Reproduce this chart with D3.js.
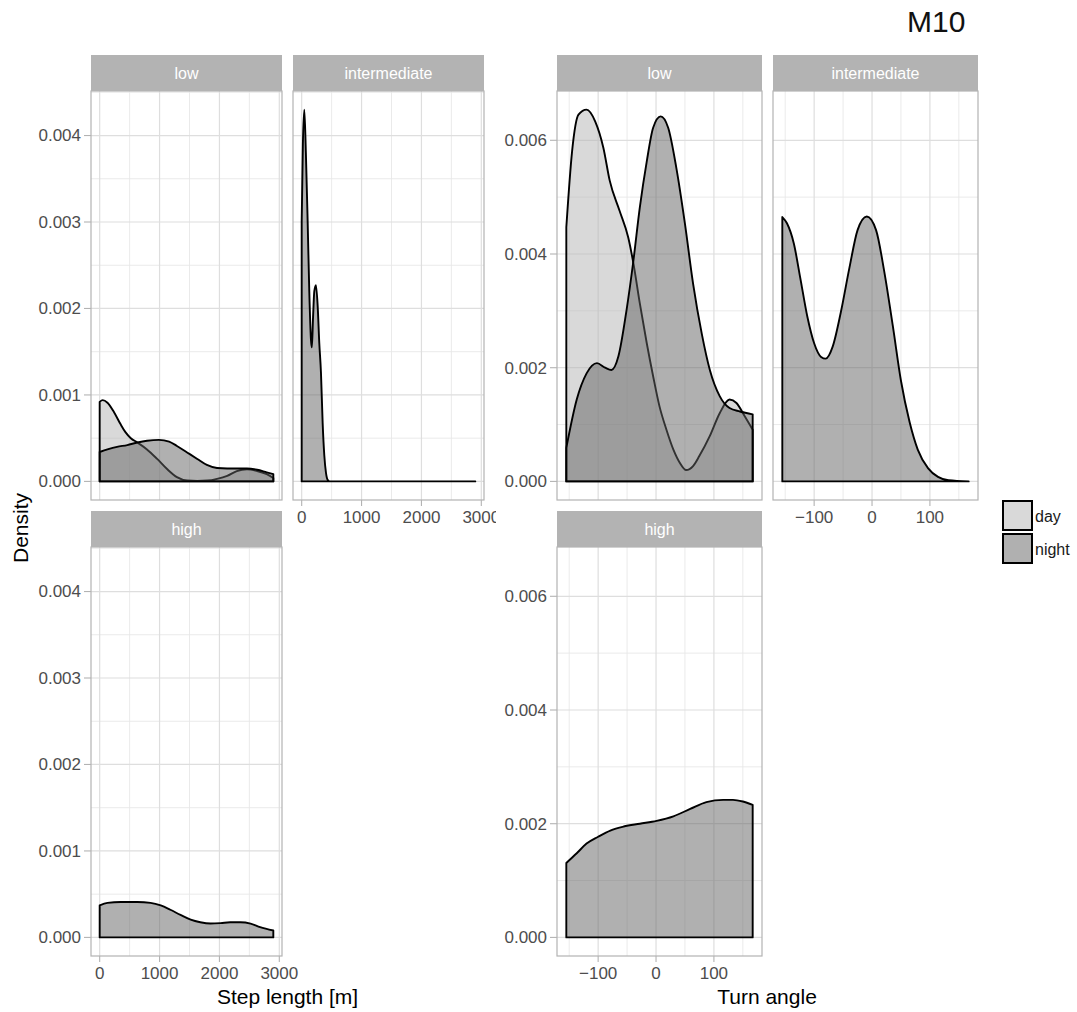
<!DOCTYPE html>
<html>
<head>
<meta charset="utf-8">
<script src="https://cdn.jsdelivr.net/npm/d3@7"></script>
<style>
  body { margin: 0; background: #fff; }
  svg { display: block; font-family: "Liberation Sans", Arial, sans-serif; }
</style>
</head>
<body>
<svg id="chart" width="1077" height="1012"></svg>
<script>
// facetas y grupos
var facetas = ["low", "intermediate", "high"];
var grupos = ["day", "night"];

// ticks
var ticksPaso = [0, 1000, 2000, 3000];
var ticksPasoMenor = [500, 1500, 2500];
var ticksDensPaso = [0, 0.001, 0.002, 0.003, 0.004];
var ticksDensPasoMenor = [0.0005, 0.0015, 0.0025, 0.0035, 0.0045];
var ticksGiro = [-100, 0, 100];
var ticksGiroMenor = [-150, -50, 50, 150];
var ticksDensGiro = [0, 0.002, 0.004, 0.006];
var ticksDensGiroMenor = [0.001, 0.003, 0.005];

// Step length: densidades [x, densidad]
var pasoLowDay = [[0,0.00092],[50,0.00094],[130,0.00091],[240,0.0008],[350,0.00066],[430,0.00057],[520,0.0005],[630,0.00045],[790,0.00037],[960,0.00026],[1130,0.00014],[1290,0.00005],[1460,0.00001],[1630,0.000005],[1800,0.00001],[1960,0.00003],[2130,0.000065],[2290,0.00012],[2460,0.00014],[2630,0.00012],[2790,0.000085],[2900,0.00004]];
var pasoLowNight = [[0,0.00034],[130,0.00037],[290,0.0004],[460,0.00042],[630,0.00045],[790,0.00047],[990,0.00048],[1160,0.00046],[1290,0.00041],[1460,0.000335],[1630,0.00026],[1790,0.00019],[1960,0.000155],[2130,0.00015],[2290,0.00015],[2460,0.00015],[2630,0.000135],[2790,0.000105],[2900,0.000085]];
var pasoIntNight = [[0,0.003],[20,0.0039],[44,0.0043],[70,0.0038],[100,0.003],[127,0.0022],[155,0.00164],[170,0.00155],[190,0.0019],[211,0.0022],[238,0.00227],[267,0.00203],[294,0.0016],[322,0.00126],[350,0.00068],[378,0.0003],[406,0.0001],[433,0.00002],[470,0],[1000,0],[2900,0]];
var pasoHighNight = [[0,0.00037],[130,0.0004],[350,0.00041],[630,0.00041],[850,0.0004],[1020,0.00037],[1180,0.00032],[1350,0.00026],[1520,0.000205],[1680,0.000175],[1850,0.00016],[2020,0.000165],[2180,0.000175],[2350,0.000175],[2520,0.00016],[2680,0.00012],[2900,0.00008]];

// Turn angle
var giroLowDay = [[-155,0.00447],[-145,0.00581],[-134,0.00645],[-120,0.00654],[-105,0.00633],[-91,0.00587],[-80,0.00529],[-63,0.00476],[-48,0.00429],[-39,0.00383],[-28,0.00313],[-16,0.00243],[-5,0.00185],[6,0.00132],[18,0.00091],[30,0.00056],[41,0.00033],[52,0.0002],[64,0.00027],[75,0.00045],[93,0.0008],[110,0.0012],[127,0.00144],[139,0.00138],[153,0.00115],[167,0.00091]];
var giroLowNight = [[-155,0.00059],[-137,0.00144],[-120,0.0019],[-102,0.00208],[-88,0.002],[-77,0.00196],[-65,0.0022],[-51,0.00301],[-39,0.00389],[-28,0.00482],[-16,0.00563],[-5,0.00622],[8,0.00642],[21,0.00622],[35,0.00552],[50,0.00453],[64,0.00348],[79,0.0026],[93,0.00196],[110,0.0015],[127,0.00129],[145,0.00123],[167,0.00118]];
var giroIntNight = [[-155,0.00465],[-147,0.00454],[-135,0.00418],[-124,0.00358],[-112,0.00291],[-100,0.00243],[-88,0.00219],[-80,0.00216],[-68,0.00237],[-54,0.00297],[-39,0.00376],[-25,0.00442],[-9,0.00466],[7,0.00442],[21,0.0037],[36,0.00273],[50,0.00177],[65,0.00104],[79,0.00056],[97,0.00023],[114,0.00008],[132,0.00002],[167,0]];
var giroHighNight = [[-155,0.00131],[-137,0.00148],[-120,0.00165],[-100,0.00177],[-79,0.00188],[-56,0.00195],[-28,0.002],[1,0.00205],[30,0.00213],[59,0.00226],[87,0.00238],[116,0.00242],[133,0.00242],[150,0.00239],[167,0.00233]];

var colores = { day: "#b3b3b3", night: "#616161" };
var coloresLeyenda = { day: "#d9d9d9", night: "#b0b0b0" };

var svg = d3.select("#chart");

// Expansion estilo ggplot (5%)
function expandir(ext) {
    var r = ext[1] - ext[0];
    return [ext[0] - r * 0.05, ext[1] + r * 0.05];
}

function maximo(listas) {
    return d3.max(listas, function (l) { return d3.max(l, function (d) { return d[1]; }); });
}
function rangoX(listas) {
    return [d3.min(listas, function (l) { return l[0][0]; }), d3.max(listas, function (l) { return l[l.length - 1][0]; })];
}

var ALTO_STRIP = 36, ALTO_PANEL = 409;

function dibujarPanel(p) {
    var g = p.padre.append("g").attr("transform", "translate(" + p.x + "," + p.y + ")");
    var w = p.ancho, h = ALTO_PANEL;
    var xs = p.escalaX.copy().range([0, w]);
    var ys = p.escalaY.copy().range([ALTO_STRIP + h, ALTO_STRIP]);

    // Strip
    g.append("rect").attr("x", 0).attr("y", 0).attr("width", w).attr("height", ALTO_STRIP).attr("fill", "#b3b3b3");
    g.append("text").attr("x", w / 2).attr("y", ALTO_STRIP / 2).attr("dy", "0.35em")
        .attr("text-anchor", "middle").attr("fill", "#fff").style("font-size", "16px").text(p.etiqueta);

    // Fondo y rejilla
    g.append("rect").attr("x", 0).attr("y", ALTO_STRIP).attr("width", w).attr("height", h).attr("fill", "#fff");
    g.selectAll(".vmin").data(p.xMenor).join("line")
        .attr("x1", function (d) { return xs(d); }).attr("x2", function (d) { return xs(d); })
        .attr("y1", ALTO_STRIP).attr("y2", ALTO_STRIP + h).attr("stroke", "#e8e8e8").attr("stroke-width", 0.9);
    g.selectAll(".hmin").data(p.yMenor).join("line")
        .attr("y1", function (d) { return ys(d); }).attr("y2", function (d) { return ys(d); })
        .attr("x1", 0).attr("x2", w).attr("stroke", "#e8e8e8").attr("stroke-width", 0.9);
    g.selectAll(".vmaj").data(p.xMayor).join("line")
        .attr("x1", function (d) { return xs(d); }).attr("x2", function (d) { return xs(d); })
        .attr("y1", ALTO_STRIP).attr("y2", ALTO_STRIP + h).attr("stroke", "#dedede").attr("stroke-width", 1.2);
    g.selectAll(".hmaj").data(p.yMayor).join("line")
        .attr("y1", function (d) { return ys(d); }).attr("y2", function (d) { return ys(d); })
        .attr("x1", 0).attr("x2", w).attr("stroke", "#dedede").attr("stroke-width", 1.2);

    // Densidades
    var area = d3.area()
        .x(function (d) { return xs(d[0]); })
        .y0(ys(0))
        .y1(function (d) { return ys(d[1]); })
        .curve(d3.curveMonotoneX);
    p.series.forEach(function (s) {
        g.append("path").attr("d", area(s.datos))
            .attr("fill", colores[s.grupo]).attr("fill-opacity", 0.5)
            .attr("stroke", "#000").attr("stroke-width", 1.9).attr("stroke-linejoin", "round");
    });

    // Borde del panel
    g.append("rect").attr("x", 0).attr("y", ALTO_STRIP).attr("width", w).attr("height", h)
        .attr("fill", "none").attr("stroke", "#b3b3b3").attr("stroke-width", 1.2);

    // Eje Y
    if (p.ejeY) {
        var ay = g.append("g");
        ay.selectAll("line").data(p.yMayor).join("line")
            .attr("x1", -7).attr("x2", 0)
            .attr("y1", function (d) { return ys(d); }).attr("y2", function (d) { return ys(d); })
            .attr("stroke", "#b3b3b3").attr("stroke-width", 1.1);
        ay.selectAll("text").data(p.yMayor).join("text")
            .attr("x", -10).attr("y", function (d) { return ys(d); }).attr("dy", "0.35em")
            .attr("text-anchor", "end").attr("fill", "#4d4d4d").style("font-size", "17px")
            .text(function (d) { return d3.format(".3f")(d); });
    }
    // Eje X
    if (p.ejeX) {
        var ax = g.append("g");
        ax.selectAll("line").data(p.xMayor).join("line")
            .attr("y1", ALTO_STRIP + h).attr("y2", ALTO_STRIP + h + 6)
            .attr("x1", function (d) { return xs(d); }).attr("x2", function (d) { return xs(d); })
            .attr("stroke", "#b3b3b3").attr("stroke-width", 1.1);
        ax.selectAll("text").data(p.xMayor).join("text")
            .attr("x", function (d) { return xs(d); }).attr("y", ALTO_STRIP + h + 23)
            .attr("text-anchor", "middle").attr("fill", "#4d4d4d").style("font-size", "17px")
            .text(function (d) { return d < 0 ? "\u2212" + Math.abs(d) : d; });
    }
}

// ---- Grafico izquierdo: Step length ----
var todasPaso = [pasoLowDay, pasoLowNight, pasoIntNight, pasoHighNight];
var escXPaso = d3.scaleLinear().domain(expandir(rangoX(todasPaso)));
var escYPaso = d3.scaleLinear().domain(expandir([0, maximo(todasPaso)]));

svg.append("clipPath").attr("id", "clipIzq").append("rect").attr("x", 0).attr("y", 0).attr("width", 496).attr("height", 1012);
var izq = svg.append("g").attr("clip-path", "url(#clipIzq)");

var comunPaso = { padre: izq, ancho: 191, escalaX: escXPaso, escalaY: escYPaso,
    xMayor: ticksPaso, xMenor: ticksPasoMenor, yMayor: ticksDensPaso, yMenor: ticksDensPasoMenor };

dibujarPanel(Object.assign({}, comunPaso, { x: 91, y: 55, etiqueta: facetas[0], ejeY: true, ejeX: false,
    series: [{ grupo: grupos[0], datos: pasoLowDay }, { grupo: grupos[1], datos: pasoLowNight }] }));
dibujarPanel(Object.assign({}, comunPaso, { x: 293, y: 55, etiqueta: facetas[1], ejeY: false, ejeX: true,
    series: [{ grupo: grupos[1], datos: pasoIntNight }] }));
dibujarPanel(Object.assign({}, comunPaso, { x: 91, y: 511, etiqueta: facetas[2], ejeY: true, ejeX: true,
    series: [{ grupo: grupos[1], datos: pasoHighNight }] }));

// ---- Grafico derecho: Turn angle ----
var todasGiro = [giroLowDay, giroLowNight, giroIntNight, giroHighNight];
var escXGiro = d3.scaleLinear().domain(expandir(rangoX(todasGiro)));
var escYGiro = d3.scaleLinear().domain(expandir([0, maximo(todasGiro)]));

var comunGiro = { padre: svg, ancho: 205, escalaX: escXGiro, escalaY: escYGiro,
    xMayor: ticksGiro, xMenor: ticksGiroMenor, yMayor: ticksDensGiro, yMenor: ticksDensGiroMenor };

dibujarPanel(Object.assign({}, comunGiro, { x: 557, y: 55, etiqueta: facetas[0], ejeY: true, ejeX: false,
    series: [{ grupo: grupos[0], datos: giroLowDay }, { grupo: grupos[1], datos: giroLowNight }] }));
dibujarPanel(Object.assign({}, comunGiro, { x: 773, y: 55, etiqueta: facetas[1], ejeY: false, ejeX: true,
    series: [{ grupo: grupos[1], datos: giroIntNight }] }));
dibujarPanel(Object.assign({}, comunGiro, { x: 557, y: 511, etiqueta: facetas[2], ejeY: true, ejeX: true,
    series: [{ grupo: grupos[1], datos: giroHighNight }] }));

// Titulos de ejes
svg.append("text").attr("x", 287.5).attr("y", 1004).attr("text-anchor", "middle")
    .style("font-size", "21px").attr("fill", "#000").text("Step length [m]");
svg.append("text").attr("x", 767).attr("y", 1004).attr("text-anchor", "middle")
    .style("font-size", "21px").attr("fill", "#000").text("Turn angle");
svg.append("text").attr("transform", "translate(28,528) rotate(-90)").attr("text-anchor", "middle")
    .style("font-size", "21px").attr("fill", "#000").text("Density");

// Leyenda
var leyenda = svg.selectAll(".leyenda").data(grupos).join("g")
    .attr("class", "leyenda")
    .attr("transform", function (d, i) { return "translate(1003," + (501 + i * 33) + ")"; });
leyenda.append("rect").attr("width", 29).attr("height", 29)
    .attr("fill", function (d) { return coloresLeyenda[d]; })
    .attr("stroke", "#000").attr("stroke-width", 2);
leyenda.append("text").attr("x", 32).attr("y", 15).attr("dy", "0.35em")
    .style("font-size", "16px").attr("fill", "#1a1a1a").text(function (d) { return d; });

// Titulo M10
svg.append("text").attr("x", 907).attr("y", 32)
    .style("font-size", "30px").attr("fill", "#111").text("M10");
</script>
</body>
</html>
